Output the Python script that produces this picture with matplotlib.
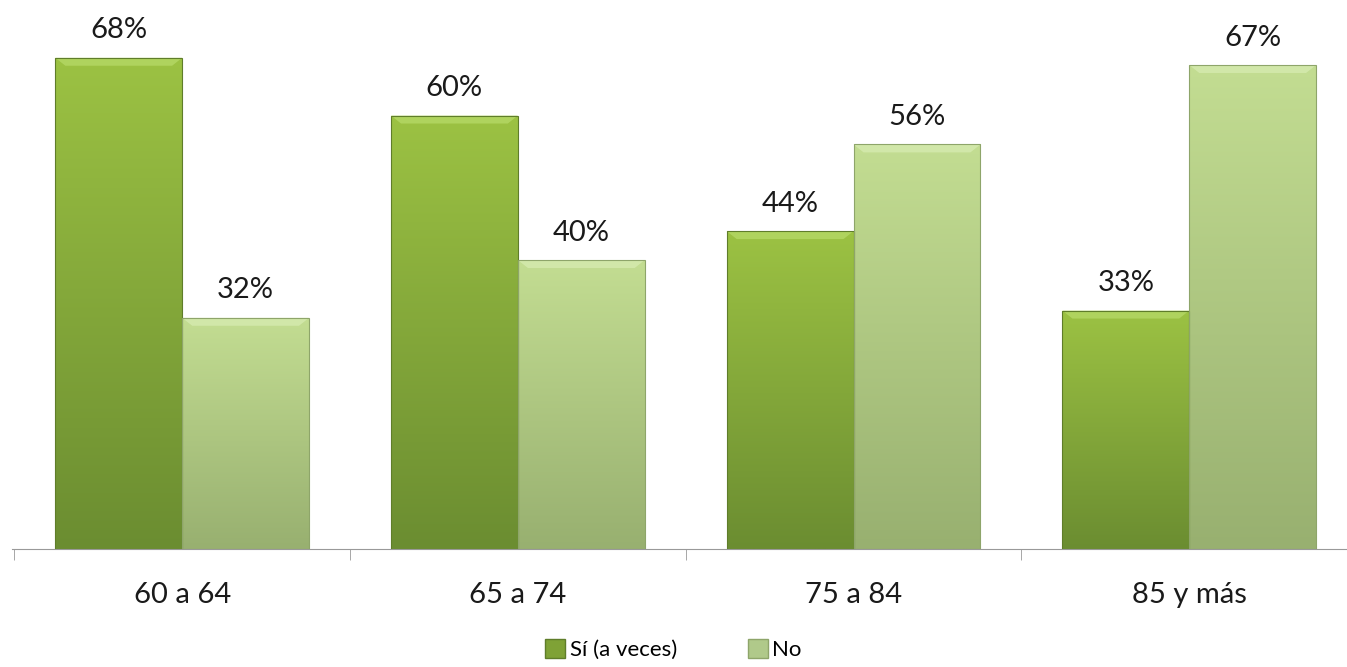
import matplotlib.pyplot as plt
import numpy as np
from matplotlib.colors import LinearSegmentedColormap
from matplotlib.patches import Patch, Polygon

plt.rcParams['font.family'] = ['Lato', 'DejaVu Sans']

categories = ["60 a 64", "65 a 74", "75 a 84", "85 y más"]
si_values = [68, 60, 44, 33]
no_values = [32, 40, 56, 67]
series_names = ["Sí (a veces)", "No"]

fig = plt.figure(figsize=(13.47, 6.67), dpi=100)
ax = fig.add_axes([0.0089, 0.177, 0.9911, 0.823])

x = np.arange(len(categories))
width = 0.378

si_cmap = LinearSegmentedColormap.from_list("si", ["#9cc243", "#6b8d31"])
no_cmap = LinearSegmentedColormap.from_list("no", ["#c3dd92", "#98b070"])

bars_si = ax.bar(x - width / 2, si_values, width, color="none", edgecolor="#5f7d2a", linewidth=0.8)
bars_no = ax.bar(x + width / 2, no_values, width, color="none", edgecolor="#8ea56a", linewidth=0.8)

grad = np.linspace(0, 1, 256).reshape(-1, 1)
for bars, cmap, hi in [(bars_si, si_cmap, "#b5d866"), (bars_no, no_cmap, "#d6ebb0")]:
    for b in bars:
        x0, y0 = b.get_x(), b.get_y()
        w, h = b.get_width(), b.get_height()
        im = ax.imshow(grad, cmap=cmap, aspect="auto", extent=[x0, x0 + w, y0, y0 + h],
                       origin="upper", zorder=1)
        im.set_clip_path(b)
        b.set_zorder(3)
        # light bevel along the top edge
        dx, dy = 0.03, 1.1
        top = y0 + h
        ax.add_patch(Polygon([[x0, top], [x0 + w, top], [x0 + w - dx, top - dy], [x0 + dx, top - dy]],
                             closed=True, facecolor=hi, edgecolor="none", alpha=0.8, zorder=2))

for xi, v in zip(x - width / 2, si_values):
    ax.text(xi, v + 2.0, f"{v}%", ha="center", va="bottom", fontsize=21, color="#1a1a1a")
for xi, v in zip(x + width / 2, no_values):
    ax.text(xi, v + 2.0, f"{v}%", ha="center", va="bottom", fontsize=21, color="#1a1a1a")

ax.set_xlim(-0.507, 3.47)
ax.set_ylim(0, 76)
ax.set_xticks(x)
ax.set_xticklabels(categories, fontsize=21, color="#1a1a1a")
ax.set_xticks(np.arange(-0.5, 3.5, 1), minor=True)
ax.tick_params(axis="x", which="major", length=0, pad=24)
ax.tick_params(axis="x", which="minor", length=8, color="#999999")
ax.set_yticks([])
for s in ["top", "right", "left"]:
    ax.spines[s].set_visible(False)
ax.spines["bottom"].set_color("#999999")

handles = [Patch(facecolor="#7fa236", edgecolor="#5f7d2a"),
           Patch(facecolor="#b0c98a", edgecolor="#8ea56a")]
fig.legend(handles, series_names, loc="lower center", ncol=2, frameon=False, fontsize=16,
           bbox_to_anchor=(0.5, -0.02), handlelength=0.9, handleheight=0.9,
           handletextpad=0.2, columnspacing=3.2)

fig.savefig("out.png", dpi=100)
